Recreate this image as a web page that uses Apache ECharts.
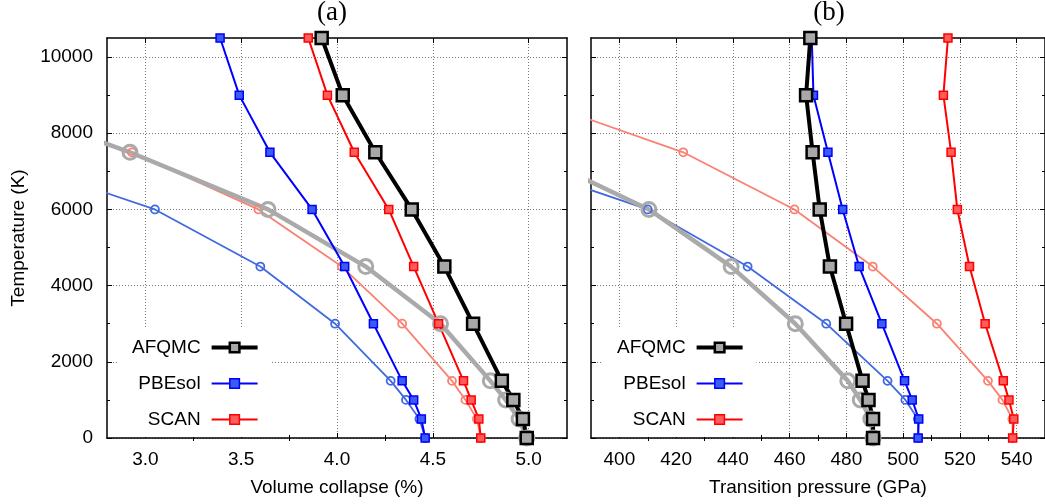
<!DOCTYPE html>
<html><head><meta charset="utf-8">
<script src="https://cdn.jsdelivr.net/npm/echarts@6/dist/echarts.min.js"></script>
<style>html,body{margin:0;padding:0;background:#fff}#c{width:1045px;height:504px}</style>
</head><body><div id="c"></div>
<script>
// ---- data ----
const temps = [10500, 9000, 7500, 6000, 4500, 3000, 1500, 1000, 500, 0];
const tempsC9 = [9000, 7500, 6000, 4500, 3000, 1500, 1000, 500, 0];
const tempsC8 = [7500, 6000, 4500, 3000, 1500, 1000, 500, 0];

// panel (a): volume collapse (%)
const afqmcA  = [3.92, 4.03, 4.20, 4.39, 4.56, 4.71, 4.86, 4.92, 4.97, 4.99];
const pbesolA = [3.39, 3.49, 3.65, 3.87, 4.04, 4.19, 4.34, 4.40, 4.44, 4.46];
const scanA   = [3.85, 3.95, 4.09, 4.27, 4.40, 4.53, 4.66, 4.70, 4.74, 4.75];
const grayA      = [2.09, 2.92, 3.64, 4.15, 4.54, 4.80, 4.88, 4.95, 4.99];      // tempsC9
const salmonA    = [2.03, 2.93, 3.59, 4.025, 4.34, 4.60, 4.67, 4.73, 4.75];    // tempsC9
const lightBlueA = [2.17, 3.05, 3.60, 3.99, 4.28, 4.36, 4.43, 4.46];           // tempsC8

// panel (b): transition pressure (GPa)
const afqmcB  = [467.3, 465.8, 468.1, 470.6, 474.2, 479.9, 485.7, 487.8, 489.4, 489.4];
const pbesolB = [467.8, 468.4, 473.5, 478.7, 484.5, 492.5, 500.5, 503.2, 505.5, 505.3];
const scanB   = [515.8, 514.2, 516.9, 519.1, 523.4, 528.9, 535.3, 537.3, 539.0, 538.6];
const grayB      = [368, 410.4, 439.4, 462.0, 480.5, 484.9, 488.6, 489.4];            // tempsC8
const lightBlueB = [351, 410, 445.2, 472.9, 494.5, 500.8, 505.2, 505.3];              // tempsC8
const salmonB    = [365, 422.5, 461.7, 489.3, 511.9, 529.9, 535.0, 538.5, 538.6];     // tempsC9

// ticks
const yMajor = [0, 2000, 4000, 6000, 8000, 10000];
const yMinor = [1000, 3000, 5000, 7000, 9000];
const xMajorA = [3.0, 3.5, 4.0, 4.5, 5.0];
const xMinorA = [3.25, 3.75, 4.25, 4.75];
const xMajorB = [400, 420, 440, 460, 480, 500, 520, 540];
const xMinorB = [410, 430, 450, 470, 490, 510, 530];

const legendNames = ['AFQMC', 'PBEsol', 'SCAN'];

// ---- helpers ----
const FONT = 'Liberation Sans';
const pairs = (xs, ts) => xs.map((x, i) => [x, ts[i]]);

function xAx(grid, pos, min, max, split, majors, opts) {
  return Object.assign({
    type: 'value', gridIndex: grid, position: pos, min, max, splitNumber: split,
    axisLine: {show: true, onZero: false, lineStyle: {color: '#000', width: 1.5}},
    axisTick: {show: true, inside: true, length: 5, customValues: majors, lineStyle: {color: '#000', width: 1}},
    axisLabel: {show: false},
    splitLine: {show: false}
  }, opts || {});
}
function yAx(grid, pos, opts) {
  return Object.assign({
    type: 'value', gridIndex: grid, position: pos, min: 0, max: 10500, splitNumber: 5,
    axisLine: {show: true, onZero: false, lineStyle: {color: '#000', width: 1.5}},
    axisTick: {show: true, inside: true, length: 5, customValues: yMajor, lineStyle: {color: '#000', width: 1}},
    axisLabel: {show: false},
    splitLine: {show: false}
  }, opts || {});
}
const gridLine = {show: true, lineStyle: {color: '#7a7a7a', type: [1, 2], width: 1}};
const minorX = (grid, pos, min, max, split, vals) => ({
  type: 'value', gridIndex: grid, position: pos, min, max, splitNumber: split,
  axisLine: {show: false}, axisLabel: {show: false}, splitLine: {show: false},
  axisTick: {show: true, inside: true, length: 3, customValues: vals, lineStyle: {color: '#000', width: 1}}
});
const minorY = (grid, pos) => ({
  type: 'value', gridIndex: grid, position: pos, min: 0, max: 10500, splitNumber: 5,
  axisLine: {show: false}, axisLabel: {show: false}, splitLine: {show: false},
  axisTick: {show: true, inside: true, length: 3, customValues: yMinor, lineStyle: {color: '#000', width: 1}}
});
const labelStyle = {fontFamily: FONT, fontSize: 19, color: '#000'};

const grids = [
  {left: 107, top: 38, width: 460, height: 400},
  {left: 591, top: 38, width: 459, height: 400},
  {left: 107, top: 38, width: 460, height: 400},
  {left: 591, top: 38, width: 459, height: 400}
];

const xAxes = [
  xAx(0, 'bottom', 2.8, 5.2, 5, xMajorA, {
    name: 'Volume collapse (%)', nameLocation: 'middle', nameGap: 40, nameTextStyle: labelStyle,
    axisLabel: Object.assign({show: true, customValues: xMajorA, margin: 12, formatter: v => v.toFixed(1)}, labelStyle),
    splitLine: gridLine}),
  xAx(0, 'top', 2.8, 5.2, 5, xMajorA),
  xAx(1, 'bottom', 390, 550, 8, xMajorB, {
    name: 'Transition pressure (GPa)', nameLocation: 'middle', nameGap: 40, nameTextStyle: labelStyle,
    axisLabel: Object.assign({show: true, customValues: xMajorB, margin: 12, formatter: v => String(v)}, labelStyle),
    splitLine: gridLine}),
  xAx(1, 'top', 390, 550, 8, xMajorB),
  minorX(2, 'bottom', 2.8, 5.2, 5, xMinorA),
  minorX(2, 'top', 2.8, 5.2, 5, xMinorA),
  minorX(3, 'bottom', 390, 550, 8, xMinorB),
  minorX(3, 'top', 390, 550, 8, xMinorB)
];
const yAxes = [
  yAx(0, 'left', {
    name: 'Temperature (K)', nameLocation: 'middle', nameGap: 79, nameTextStyle: labelStyle,
    axisLabel: Object.assign({show: true, customValues: yMajor, margin: 14, formatter: v => String(v)}, labelStyle),
    splitLine: gridLine}),
  yAx(0, 'right'),
  yAx(1, 'left', {splitLine: gridLine}),
  yAx(1, 'right'),
  minorY(2, 'left'), minorY(2, 'right'), minorY(3, 'left'), minorY(3, 'right')
];

const styles = {
  AFQMC:  {symbol: 'rect', symbolSize: 12, itemStyle: {color: '#a8a8a8', borderColor: '#000', borderWidth: 2.5}, lineStyle: {color: '#000', width: 4}},
  PBEsol: {symbol: 'rect', symbolSize: 8, itemStyle: {color: '#3a5cf2', borderColor: '#0000ff', borderWidth: 1.5}, lineStyle: {color: '#0000ff', width: 2}},
  SCAN:   {symbol: 'rect', symbolSize: 8, itemStyle: {color: '#ff5c5c', borderColor: '#ff0000', borderWidth: 1.5}, lineStyle: {color: '#ff0000', width: 2}},
  grayC:  {symbol: 'circle', symbolSize: 14, itemStyle: {color: 'rgba(255,255,255,0)', borderColor: '#aaaaaa', borderWidth: 3}, lineStyle: {color: '#aaaaaa', width: 4.5}},
  blueC:  {symbol: 'circle', symbolSize: 8, itemStyle: {color: 'rgba(255,255,255,0)', borderColor: '#4169e1', borderWidth: 1.8}, lineStyle: {color: '#4169e1', width: 1.8}},
  salmonC:{symbol: 'circle', symbolSize: 8, itemStyle: {color: 'rgba(255,255,255,0)', borderColor: '#fa8072', borderWidth: 1.8}, lineStyle: {color: '#fa8072', width: 1.8}}
};
function mk(name, styleKey, data, ax) {
  return Object.assign({
    type: 'line', name, data, xAxisIndex: ax, yAxisIndex: ax,
    showAllSymbol: true, clip: true, animation: false, silent: true,
    emphasis: {disabled: true}
  }, styles[styleKey]);
}
const series = [
  mk('SCAN-QHA a', 'salmonC', pairs(salmonA, tempsC9), 0),
  mk('PBEsol-QHA a', 'blueC', pairs(lightBlueA, tempsC8), 0),
  mk('AFQMC-QHA a', 'grayC', pairs(grayA, tempsC9), 0),
  mk('SCAN', 'SCAN', pairs(scanA, temps), 0),
  mk('PBEsol', 'PBEsol', pairs(pbesolA, temps), 0),
  mk('AFQMC', 'AFQMC', pairs(afqmcA, temps), 0),
  mk('SCAN-QHA b', 'salmonC', pairs(salmonB, tempsC9), 2),
  mk('PBEsol-QHA b', 'blueC', pairs(lightBlueB, tempsC8), 2),
  mk('AFQMC-QHA b', 'grayC', pairs(grayB, tempsC8), 2),
  mk('SCAN', 'SCAN', pairs(scanB, temps), 2),
  mk('PBEsol', 'PBEsol', pairs(pbesolB, temps), 2),
  mk('AFQMC', 'AFQMC', pairs(afqmcB, temps), 2)
];

const legendItems = legendNames.map(n => ({
  name: n,
  lineStyle: {width: styles[n].lineStyle.width},
  itemStyle: {borderWidth: n === 'AFQMC' ? 2.5 : 1.5}
}));
function legendAt(left) {
  return {
    data: legendItems, left, top: 328, orient: 'vertical', align: 'right',
    itemWidth: 46, itemHeight: 12, itemGap: 17, selectedMode: false,
    backgroundColor: '#fff', padding: [10, 12, 8, 15],
    textStyle: {fontFamily: FONT, fontSize: 19, color: '#000', padding: [0, 6, 0, 0]}
  };
}

const chart = echarts.init(document.getElementById('c'), null, {renderer: 'canvas'});
chart.setOption({
  animation: false,
  backgroundColor: '#fff',
  title: [
    {text: '(a)', left: 332, top: -1, textAlign: 'center', padding: 0,
     textStyle: {fontFamily: 'Liberation Serif', fontSize: 27, fontWeight: 'normal', color: '#000'}},
    {text: '(b)', left: 829, top: -1, textAlign: 'center', padding: 0,
     textStyle: {fontFamily: 'Liberation Serif', fontSize: 27, fontWeight: 'normal', color: '#000'}}
  ],
  legend: [legendAt(117), legendAt(602)],
  grid: grids,
  xAxis: xAxes,
  yAxis: yAxes,
  series
});
</script></body></html>
